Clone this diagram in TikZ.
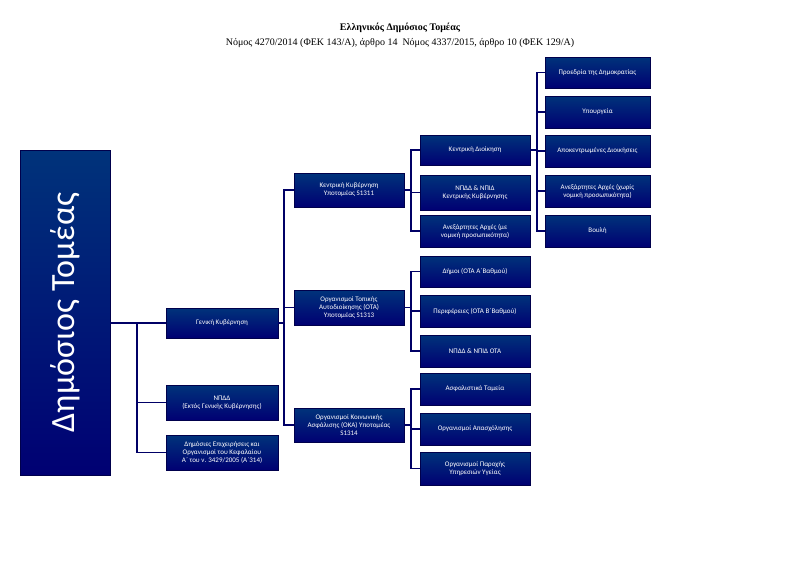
\documentclass[tikz,border=0pt]{standalone}
\usepackage{fontspec}
\setmainfont{Liberation Serif}
\newfontfamily\boxfont{Carlito}
\begin{document}
\begin{tikzpicture}[x=1pt,y=-1pt,
  bx/.style={draw=black!70!blue,line width=0.8pt,top color=blue!35!black!80!cyan,bottom color=blue!45!black,
     minimum width=#1,inner sep=1pt,align=center,text=white,font=\boxfont\fontsize{7}{8}\selectfont},
  bx/.default=110pt,
  ln/.style={draw=black!60!blue,line width=1.3pt}]
\useasboundingbox (0,0) rectangle (800,566);
\node[font=\bfseries\fontsize{10}{12}\selectfont] (t) at (400,28) {Ελληνικός Δημόσιος Τομέας};
\node[font=\fontsize{10}{12}\selectfont] (s) at (400,43) {Νόμος 4270/2014 (ΦΕΚ 143/Α), άρθρο 14\ \ Νόμος 4337/2015, άρθρο 10 (ΦΕΚ 129/Α)};
\node[bx=90pt,minimum height=325pt] (root) at (65,312.5) {};
\node[rotate=90,text=white,font=\boxfont\fontsize{34}{36}\selectfont] (rl) at (65,312.5) {Δημόσιος Τομέας};
\node[bx=112pt,minimum height=30pt] (gk) at (222,323) {Γενική Κυβέρνηση};
\node[bx=112pt,minimum height=35pt] (np) at (222,402.5) {ΝΠΔΔ\\(Εκτός Γενικής Κυβέρνησης)};
\node[bx=112pt,minimum height=35pt] (de) at (222,452.5) {Δημόσιες Επιχειρήσεις και\\Οργανισμοί του Κεφαλαίου\\Α΄ του ν. 3429/2005 (Α΄314)};
\node[bx,minimum height=34pt] (kk) at (349,190) {Κεντρική Κυβέρνηση\\Υποτομέας S1311};
\node[bx,minimum height=35pt] (ota) at (349,307.5) {Οργανισμοί Τοπικής\\Αυτοδιοίκησης (ΟΤΑ)\\Υποτομέας S1313};
\node[bx,minimum height=34pt] (oka) at (349,425) {Οργανισμοί Κοινωνικής\\Ασφάλισης (ΟΚΑ) Υποτομέας\\S1314};
\node[bx,minimum height=30pt] (kd) at (475,150) {Κεντρική Διοίκηση};
\node[bx,minimum height=35pt] (nn) at (475,192.5) {ΝΠΔΔ \& ΝΠΙΔ\\Κεντρικής Κυβέρνησης};
\node[bx,minimum height=32pt] (aa) at (475,231) {Ανεξάρτητες Αρχές (με\\νομική προσωπικότητα)};
\node[bx,minimum height=31pt] (dm) at (475,271.5) {Δήμοι (ΟΤΑ Α΄Βαθμού)};
\node[bx,minimum height=32pt] (pr) at (475,311) {Περιφέρειες (ΟΤΑ Β΄Βαθμού)};
\node[bx,minimum height=32pt] (no) at (475,351) {ΝΠΔΔ \& ΝΠΙΔ ΟΤΑ};
\node[bx,minimum height=32pt] (at) at (475,389) {Ασφαλιστικά Ταμεία};
\node[bx,minimum height=32pt] (oa) at (475,429) {Οργανισμοί Απασχόλησης};
\node[bx,minimum height=33pt] (op) at (475,468.5) {Οργανισμοί Παροχής\\Υπηρεσιών Υγείας};
\node[bx=105pt,minimum height=31pt] (pd) at (597.5,72.5) {Προεδρία της Δημοκρατίας};
\node[bx=105pt,minimum height=32pt] (yp) at (597.5,112) {Υπουργεία};
\node[bx=105pt,minimum height=32pt] (ad) at (597.5,151) {Αποκεντρωμένες Διοικήσεις};
\node[bx=105pt,minimum height=32pt] (ax) at (597.5,191) {Ανεξάρτητες Αρχές (χωρίς\\νομική προσωπικότητα)};
\node[bx=105pt,minimum height=32pt] (bo) at (597.5,231) {Βουλή};
\coordinate (b0) at (137,0);
\foreach \n in {gk,np,de} \draw[ln] (root.east |- gk) -| (b0 |- gk) |- (\n.west);
\draw[ln] (b0 |- gk) -- (b0 |- de);
\coordinate (b1) at (284,0);
\foreach \n in {kk,ota,oka} \draw[ln] (gk.east) -| (b1 |- \n) -- (\n.west);
\coordinate (b2) at (411,0);
\foreach \n in {kd,nn,aa} \draw[ln] (kk.east) -| (b2 |- \n) -- (\n.west);
\foreach \n in {dm,pr,no} \draw[ln] (ota.east) -| (b2 |- \n) -- (\n.west);
\foreach \n in {at,oa,op} \draw[ln] (oka.east) -| (b2 |- \n) -- (\n.west);
\coordinate (b3) at (537,0);
\foreach \n in {pd,yp,ad,ax,bo} \draw[ln] (kd.east) -| (b3 |- \n) -- (\n.west);
\end{tikzpicture}
\end{document}
